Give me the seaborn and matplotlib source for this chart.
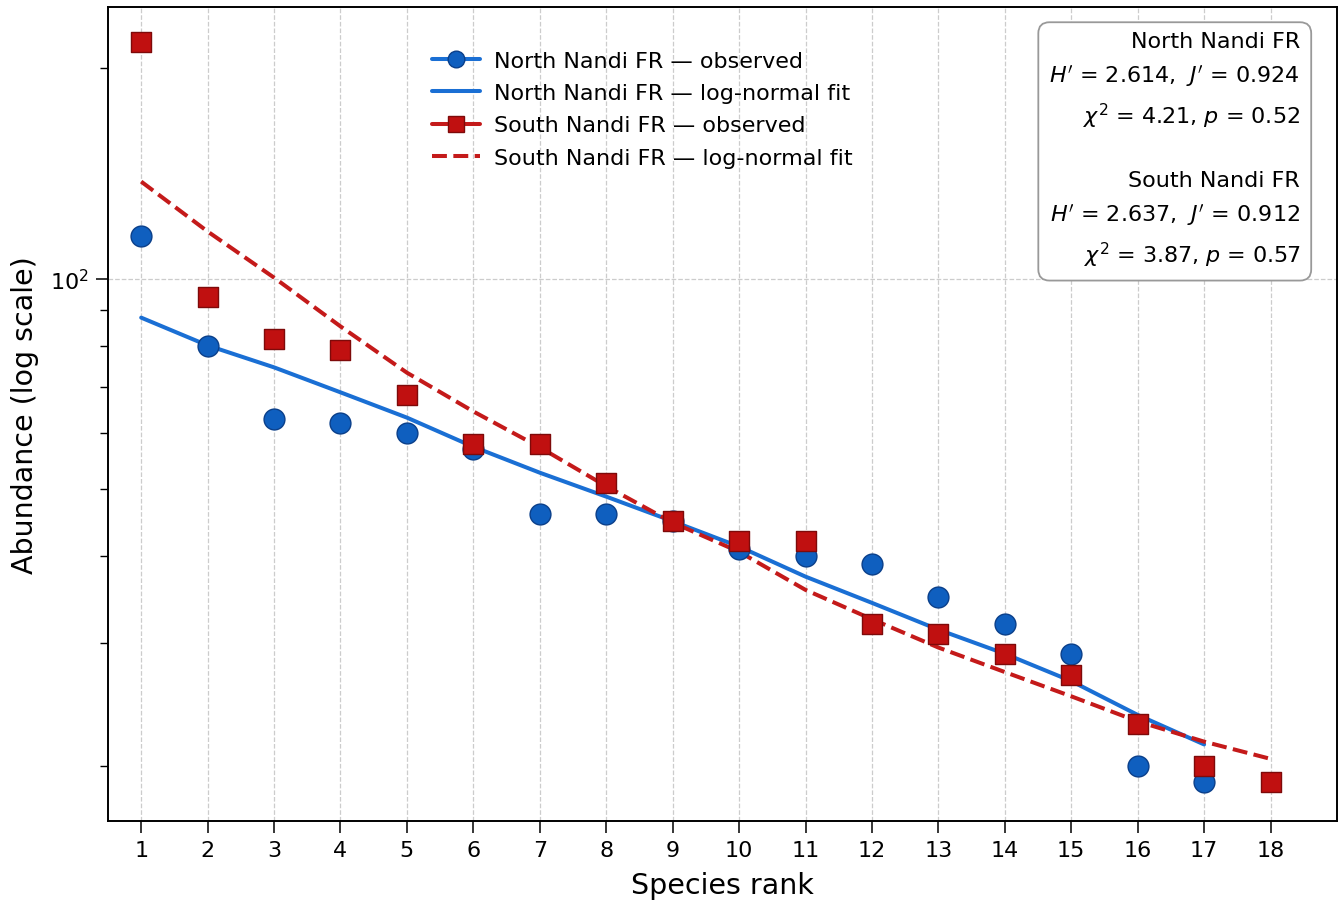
import numpy as np
import pandas as pd
import matplotlib
matplotlib.use("Agg")
import matplotlib.pyplot as plt
import seaborn as sns
from matplotlib.lines import Line2D
from matplotlib.ticker import NullFormatter, FixedLocator

# ---- data ----
ranks_north = list(range(1, 18))
north_obs = [115, 80, 63, 62, 60, 57, 46, 46, 45, 41, 40, 39, 35, 32, 29, 20, 19]
north_fit = [87.9, 80.2, 74.6, 68.7, 63.2, 57.4, 52.7, 48.7, 44.9, 41.3, 37.4,
             34.3, 31.4, 29.0, 26.5, 23.7, 21.5]
ranks_south = list(range(1, 19))
south_obs = [218, 94, 82, 79, 68, 58, 58, 51, 45, 42, 42, 32, 31, 29, 27, 23, 20, 19]
south_fit = [137.7, 116.8, 100.3, 85.4, 73.3, 64.5, 57.3, 50.4, 44.7, 40.6, 35.8,
             32.5, 29.6, 27.3, 25.2, 23.2, 21.7, 20.5]
x_ticks = list(range(1, 19))

north_label = "North Nandi FR"
south_label = "South Nandi FR"
stats_text = ("North Nandi FR\n"
              r"$H'$ = 2.614,  $J'$ = 0.924" "\n"
              r"$\chi^2$ = 4.21, $p$ = 0.52" "\n\n"
              "South Nandi FR\n"
              r"$H'$ = 2.637,  $J'$ = 0.912" "\n"
              r"$\chi^2$ = 3.87, $p$ = 0.57")

df_n = pd.DataFrame({"rank": ranks_north, "obs": north_obs, "fit": north_fit})
df_s = pd.DataFrame({"rank": ranks_south, "obs": south_obs, "fit": south_fit})

# ---- style ----
sns.set_theme(style="ticks")
plt.rcParams["font.family"] = ["DejaVu Sans"]
plt.rcParams["mathtext.fontset"] = "dejavusans"
plt.rcParams["text.color"] = "black"
plt.rcParams["axes.labelcolor"] = "black"

blue_fill = "#0F5FBF"
blue_edge = "#0A3F8A"
blue_line = "#1A6FD4"
red_fill = "#C01010"
red_edge = "#7E0A0A"
red_line = "#C41A1A"

fig = plt.figure(figsize=(13.43, 9.04), dpi=100)
ax = fig.add_axes([0.0804, 0.0907, 0.9151, 0.9005])

sns.lineplot(data=df_n, x="rank", y="fit", ax=ax, color=blue_line, lw=2.9,
             zorder=2, legend=False)
sns.lineplot(data=df_s, x="rank", y="fit", ax=ax, color=red_line, lw=2.9,
             linestyle="--", zorder=2, legend=False)
sns.scatterplot(data=df_n, x="rank", y="obs", ax=ax, marker="o", s=225,
                color=blue_fill, edgecolor=blue_edge, linewidth=1.0, zorder=3,
                legend=False)
sns.scatterplot(data=df_s, x="rank", y="obs", ax=ax, marker="s", s=225,
                color=red_fill, edgecolor=red_edge, linewidth=1.0, zorder=4,
                legend=False)

ax.set_yscale("log")
ax.set_xlim(0.5, 19.0)
ax.set_ylim(16.7, 245)
ax.xaxis.set_major_locator(FixedLocator(x_ticks))
ax.set_xticklabels([str(t) for t in x_ticks])
ax.yaxis.set_minor_formatter(NullFormatter())

ax.grid(True, which="major", linestyle="--", color="#cccccc", linewidth=0.9)
ax.set_axisbelow(True)

for sp in ax.spines.values():
    sp.set_color("black")
    sp.set_linewidth(1.4)

ax.tick_params(axis="both", which="major", labelsize=16, length=8.5, width=1.1,
               colors="black", direction="out", pad=5)
ax.tick_params(axis="y", which="minor", length=5.5, width=1.0, direction="out",
               colors="black")

ax.set_xlabel("Species rank", fontsize=20.5, labelpad=8)
ax.set_ylabel("Abundance (log scale)", fontsize=20.5, labelpad=8)

handles = [
    Line2D([], [], color=blue_line, lw=2.9, marker="o", ms=12,
           markerfacecolor=blue_fill, markeredgecolor=blue_edge),
    Line2D([], [], color=blue_line, lw=2.9),
    Line2D([], [], color=red_line, lw=2.9, marker="s", ms=12,
           markerfacecolor=red_fill, markeredgecolor=red_edge),
    Line2D([], [], color=red_line, lw=2.9, linestyle="--"),
]
labels = [f"{north_label} — observed", f"{north_label} — log-normal fit",
          f"{south_label} — observed", f"{south_label} — log-normal fit"]
ax.legend(handles, labels, loc="upper left", bbox_to_anchor=(0.247, 0.971),
          frameon=False, fontsize=16, handlelength=2.2, handletextpad=0.6,
          labelspacing=0.56)

ax.text(0.970, 0.971, stats_text, transform=ax.transAxes, ha="right", va="top",
        fontsize=16, linespacing=1.6, multialignment="right",
        bbox=dict(boxstyle="round,pad=0.5", facecolor="white",
                  edgecolor="#999999", linewidth=1.3))

fig.savefig("out.png", dpi=100)
